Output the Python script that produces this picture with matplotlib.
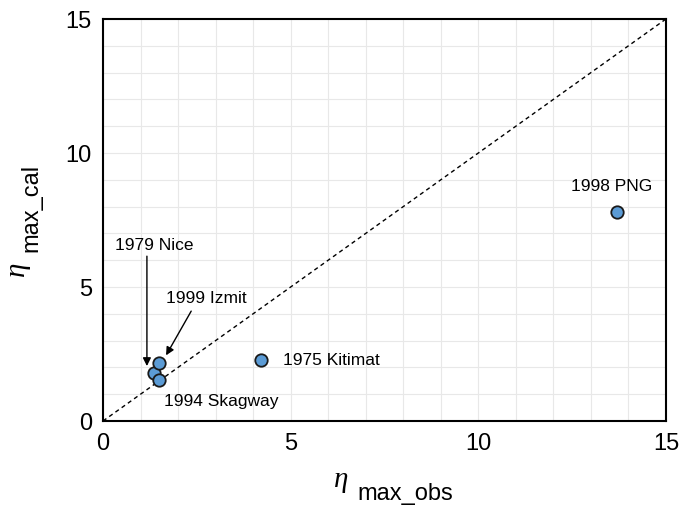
import numpy as np
import matplotlib.pyplot as plt

plt.rcParams['font.family'] = ['Liberation Sans', 'DejaVu Sans']

# observed vs calculated max run-up
events = ['1979 Nice', '1999 Izmit', '1994 Skagway', '1975 Kitimat', '1998 PNG']
eta_obs = [1.36, 1.49, 1.49, 4.22, 13.7]
eta_cal = [1.79, 2.16, 1.53, 2.28, 7.8]

W, H = 689, 506
fig = plt.figure(figsize=(W / 100, H / 100), dpi=100)
ax = fig.add_axes([103 / W, 1 - 422 / H, 563 / W, 402 / H])

ax.set_xlim(0, 15)
ax.set_ylim(0, 15)
ax.set_xticks([0, 5, 10, 15])
ax.set_yticks([0, 5, 10, 15])
ax.set_xticks(np.arange(0, 16, 1), minor=True)
ax.set_yticks(np.arange(0, 16, 1), minor=True)
ax.grid(which='both', color='#e8e8e8', linewidth=0.8)
ax.set_axisbelow(True)
ax.tick_params(which='both', length=0, labelsize=17, pad=8)
for s in ax.spines.values():
    s.set_linewidth(1.5)

ax.plot([0, 15], [0, 15], ls='--', color='black', lw=1.0, dashes=(3, 2.5))
ax.scatter(eta_obs, eta_cal, s=80, color='#5b9bd5', edgecolor='#1a1a1a',
           linewidth=1.3, zorder=3)

fs = 12.5
arrow = dict(arrowstyle='-|>', color='black', lw=1.0, mutation_scale=12,
             shrinkA=0, shrinkB=0)
ax.text(1.37, 6.6, events[0], fontsize=fs, ha='center', va='center')
ax.annotate('', xy=(1.17, 2.05), xytext=(1.17, 6.15), arrowprops=arrow)
ax.text(2.74, 4.6, events[1], fontsize=fs, ha='center', va='center')
ax.annotate('', xy=(1.68, 2.45), xytext=(2.35, 4.1), arrowprops=arrow)
ax.text(3.15, 0.75, events[2], fontsize=fs, ha='center', va='center')
ax.text(4.8, 2.28, events[3], fontsize=fs, ha='left', va='center')
ax.text(13.55, 8.8, events[4], fontsize=fs, ha='center', va='center')

# axis labels: italic eta with a dropped subscript
eta_font = dict(family='Liberation Serif', style='italic', fontsize=21)
sub_font = dict(family='Liberation Sans', fontsize=17)
fig.text(348 / W, 1 - 487 / H, '\u03b7', ha='right', va='baseline', **eta_font)
fig.text(357 / W, 1 - 500 / H, 'max_obs', ha='left', va='baseline', **sub_font)
fig.text(24 / W, 1 - 261 / H, '\u03b7', ha='right', va='baseline',
         rotation=90, rotation_mode='anchor', **eta_font)
fig.text(37 / W, 1 - 252 / H, 'max_cal', ha='left', va='baseline',
         rotation=90, rotation_mode='anchor', **sub_font)

fig.savefig('out.png', dpi=100)
